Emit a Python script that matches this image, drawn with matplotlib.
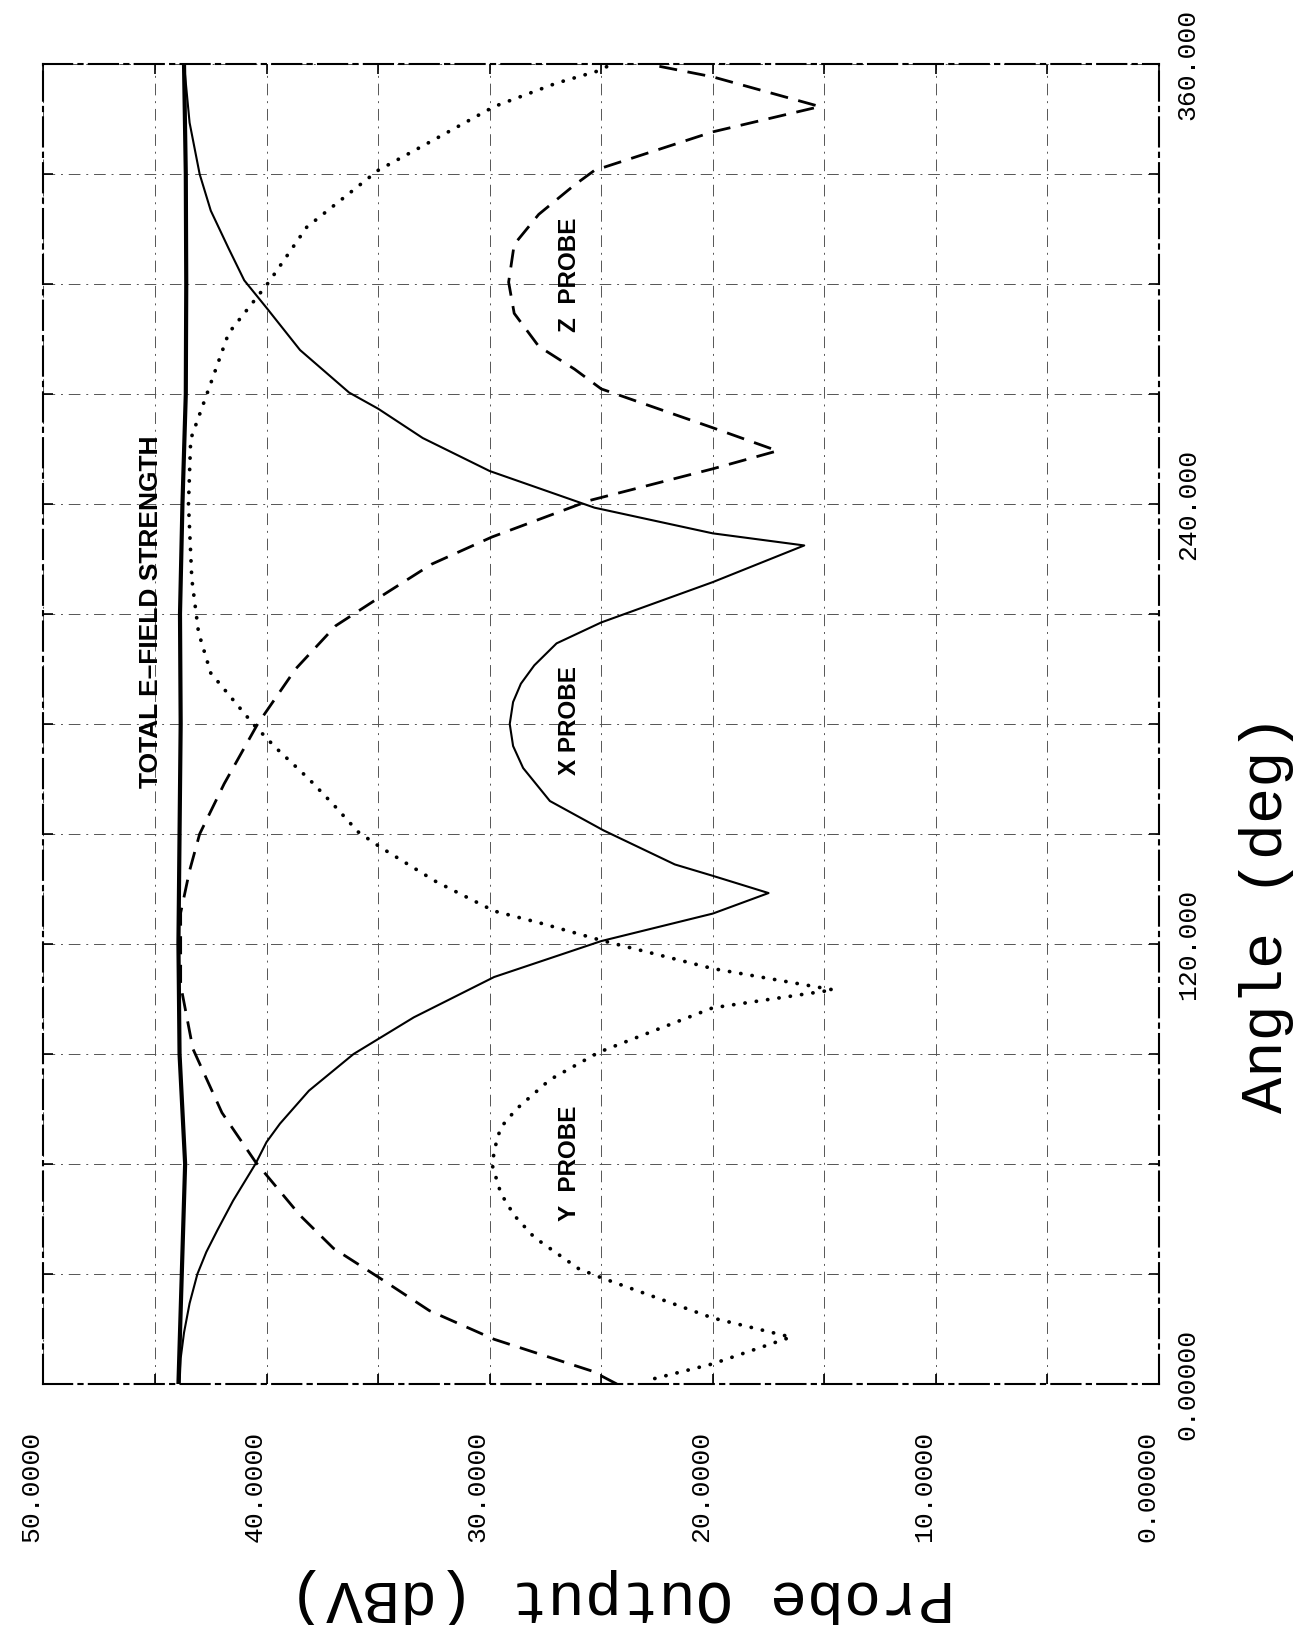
import matplotlib.pyplot as plt
from matplotlib import font_manager
from matplotlib.ticker import FixedLocator, MultipleLocator
import matplotlib.transforms as mtransforms

# Probe output vs rotation angle. The sheet is printed turned by 90 degrees:
# angle runs bottom -> top, probe output (dBV) runs 50 (left) -> 0 (right).

total_deg = [0, 30, 60, 90, 120, 150, 180, 210, 240, 270, 300, 330, 360]
total_dbv = [43.95, 43.8, 43.65, 43.9, 43.95, 43.9, 43.85, 43.88, 43.77,
             43.62, 43.6, 43.62, 43.7]

x_deg = [0, 7, 14, 22, 30, 36, 42, 50, 60, 66, 71, 80, 90, 100, 111, 120.8,
         128.3, 133.9, 138.6, 141.7, 151, 159, 168, 174, 180, 186, 191, 196,
         202, 207.7, 218.7, 228.7, 232, 239, 249, 258, 266, 270.4, 282, 293.5,
         301, 309.7, 320, 330, 344, 360]
x_dbv = [43.9, 43.85, 43.7, 43.45, 43.1, 42.7, 42.2, 41.5, 40.5, 40.0, 39.4,
         38.1, 36.1, 33.4, 29.8, 25.0, 20.0, 17.5, 20.0, 21.7, 24.9, 27.3,
         28.5, 28.95, 29.1, 28.95, 28.6, 28.0, 27.0, 25.0, 20.0, 15.9, 20.0,
         25.3, 30.0, 33.0, 35.0, 36.3, 38.5, 40.0, 41.0, 41.7, 42.5, 43.0,
         43.45, 43.7]

y_deg = [1.5, 5.5, 12.8, 18, 29, 31.4, 40, 46, 52, 60, 66, 70, 75, 83, 90.5,
         102.6, 107.5, 113.3, 121, 125.5, 129, 137, 146.4, 150.6, 158, 165,
         173.6, 180, 193.9, 205, 219.5, 240, 257.7, 270.4, 286.6, 300.5,
         315.5, 331, 339, 348.4, 354.8, 358, 360]
y_dbv = [22.6, 20.0, 16.5, 20.0, 25.0, 26.0, 28.0, 28.9, 29.5, 29.9, 29.7,
         29.5, 28.8, 27.3, 25.1, 20.0, 14.6, 20.0, 25.0, 27.6, 29.8, 32.4,
         34.9, 35.9, 37.0, 38.1, 39.6, 40.6, 42.5, 43.05, 43.35, 43.5, 43.4,
         42.65, 41.7, 39.9, 38.2, 35.0, 32.6, 29.8, 27.0, 25.2, 24.5]

z_deg = [0, 3.5, 12.2, 20, 28.8, 37, 46, 60.6, 74, 91.4, 108.8, 128.5, 140,
         150, 163.7, 180, 195, 206.8, 214.7, 223.6, 231, 241, 249.6, 254.5,
         260.8, 271.4, 276.8, 283, 292, 300.5, 310.8, 319, 327, 331, 341.5,
         348.4, 356.5, 359.5]
z_dbv = [24.3, 25.4, 29.8, 32.7, 34.9, 37.0, 38.5, 40.5, 42.0, 43.3, 43.85,
         43.85, 43.45, 43.0, 41.9, 40.4, 38.7, 36.9, 34.9, 32.6, 29.9, 25.5,
         20.0, 17.1, 20.0, 25.0, 26.2, 27.8, 28.9, 29.15, 28.9, 27.8, 26.2,
         25.3, 20.0, 15.2, 20.0, 22.5]

dbv_ticks = [50, 40, 30, 20, 10, 0]
dbv_labels = ['50.0000', '40.0000', '30.0000', '20.0000', '10.0000', '0.00000']
deg_ticks = [0, 120, 240, 360]
deg_labels = ['0.00000', '120.000', '240.000', '360.000']

# curve captions: (text, dBV, angle, size)
captions = [('TOTAL E\u2013FIELD STRENGTH', 45.2, 210.5, 19),
            ('X PROBE', 26.4, 181, 17.5),
            ('Y  PROBE', 26.4, 60.3, 17.5),
            ('Z  PROBE', 26.4, 302.4, 17.5)]

MONO = 'Liberation Mono'


def pick_tick_font():
    '''Tall narrow plotter digits: use Liberation Sans Narrow if present.'''
    try:
        font_manager.findfont(font_manager.FontProperties(
            family='Liberation Sans Narrow'), fallback_to_default=False)
        return 'Liberation Sans Narrow', 25.5
    except ValueError:
        return MONO, 19

######################################################################

tick_font, tick_size = pick_tick_font()

fig = plt.figure(figsize=(13.05, 16.25), dpi=100)
ax = fig.add_axes([0.0333, 0.1483, 0.8548, 0.8123])

ax.plot(total_dbv, total_deg, color='black', lw=3.0, solid_capstyle='round')
ax.plot(x_dbv, x_deg, color='black', lw=1.5)
ax.plot(y_dbv, y_deg, color='black', lw=2.7, dash_capstyle='round',
        linestyle=(0, (0.05, 3.0)))
ax.plot(z_dbv, z_deg, color='black', lw=2.0, linestyle=(0, (6.5, 3.8)))

for txt, dbv, deg, size in captions:
    ax.text(dbv, deg, txt, rotation=90, ha='center', va='center',
            fontsize=size, fontweight='bold', family='Liberation Sans')

ax.set_xlim(50, 0)
ax.set_ylim(0, 360)

ax.xaxis.set_major_locator(FixedLocator(dbv_ticks))
ax.xaxis.set_minor_locator(MultipleLocator(5))
ax.set_xticklabels(dbv_labels)
ax.yaxis.tick_right()
ax.yaxis.set_major_locator(FixedLocator(deg_ticks))
ax.yaxis.set_minor_locator(MultipleLocator(30))
ax.set_yticklabels(deg_labels)

ax.tick_params(which='both', direction='in', top=True, bottom=True,
               left=True, right=True, length=7, width=1.2)
ax.tick_params(axis='x', labelrotation=90, pad=34, labelsize=tick_size,
               labelfontfamily=tick_font)
ax.tick_params(axis='y', labelrotation=90, pad=12, labelsize=tick_size,
               labelfontfamily=tick_font)
for lab in ax.get_yticklabels():
    lab.set_verticalalignment('center')

# plotter put the dBV numbers slightly left of their ticks
shift = mtransforms.ScaledTranslation(-12 / 100, 0, fig.dpi_scale_trans)
for lab in ax.get_xticklabels():
    lab.set_transform(lab.get_transform() + shift)

ax.grid(True, which='both', color='#555555', lw=0.7,
        linestyle=(0, (12, 6, 2, 6)))
for sp in ax.spines.values():
    sp.set_linestyle((0, (14, 3, 2, 3)))
    sp.set_linewidth(1.5)

ax.set_xlabel('Probe Output (dBV)', rotation=180, fontsize=44.5,
              family=MONO, ha='center', va='center')
ax.xaxis.set_label_coords(0.5186, -0.1606)
ax.yaxis.set_label_position('right')
ax.set_ylabel('Angle (deg)', rotation=90, fontsize=43.5, family=MONO,
              ha='center', va='center')
ax.yaxis.set_label_coords(1.0968, 0.356)

plt.savefig('out.png', dpi=100)
